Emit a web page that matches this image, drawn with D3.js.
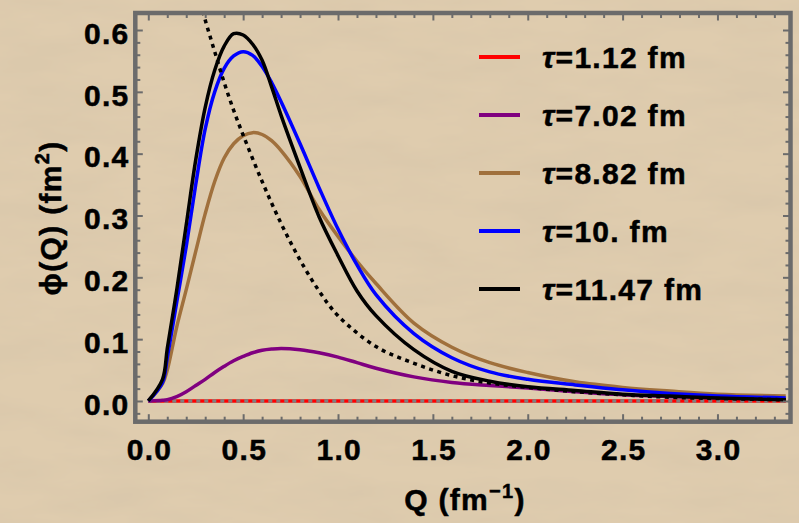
<!DOCTYPE html>
<html>
<head>
<meta charset="utf-8">
<script src="https://cdn.jsdelivr.net/npm/d3@7"></script>
<style>
  body { margin: 0; background: #dcc9ab; overflow: hidden; }
  svg { display: block; }
  text { font-family: "Liberation Sans", Arial, sans-serif; font-weight: bold; fill: #000;
         stroke: #000; stroke-width: 0.5px; letter-spacing: 1.3px; }
</style>
</head>
<body>
<div id="container"></div>
<script>
/* DATA */
const qGrid = [0, 0.075, 0.1, 0.15, 0.2, 0.25, 0.3, 0.35, 0.4, 0.45, 0.5, 0.55, 0.6, 0.65, 0.7,
               0.8, 0.9, 1.0, 1.1, 1.2, 1.4, 1.6, 1.8, 2.0, 2.25, 2.5, 2.75, 3.0, 3.36];

const phiTau1 = [0, 0, 0, 0, 0, 0, 0, 0, 0, 0, 0, 0, 0, 0, 0,
                 0, 0, 0, 0, 0, 0, 0, 0, 0, 0, 0, 0, 0, 0];
const phiTau7 = [0, 0.001, 0.002, 0.007, 0.015, 0.025, 0.035, 0.046, 0.056, 0.065, 0.072, 0.078, 0.082, 0.084, 0.085,
                 0.083, 0.078, 0.071, 0.062, 0.053, 0.039, 0.030, 0.025, 0.021, 0.015, 0.010, 0.007, 0.005, 0.003];
const phiTau8 = [0, 0.028, 0.05, 0.12, 0.18, 0.242, 0.303, 0.355, 0.393, 0.416, 0.429, 0.434, 0.431, 0.421, 0.405,
                 0.363, 0.31, 0.266, 0.226, 0.19, 0.126, 0.087, 0.062, 0.046, 0.031, 0.022, 0.016, 0.011, 0.008];
const phiTau10 = [0, 0.03, 0.07, 0.16, 0.25, 0.35, 0.44, 0.50, 0.538, 0.558, 0.565, 0.559, 0.541, 0.515, 0.484,
                  0.416, 0.345, 0.278, 0.22, 0.172, 0.109, 0.070, 0.047, 0.035, 0.026, 0.018, 0.012, 0.008, 0.005];
const phiTau11 = [0, 0.035, 0.085, 0.18, 0.285, 0.39, 0.475, 0.535, 0.574, 0.594, 0.592, 0.577, 0.551, 0.508, 0.462,
                  0.378, 0.298, 0.235, 0.178, 0.138, 0.083, 0.048, 0.032, 0.023, 0.017, 0.011, 0.008, 0.005, 0.002];

const dotQ   = [0.25, 0.3, 0.35, 0.4, 0.45, 0.5, 0.6, 0.7, 0.8, 0.9, 1.0, 1.2, 1.4, 1.6, 1.8, 2.0, 2.25, 2.5, 2.75, 3.0, 3.36];
const dotPhi = [0.67, 0.616, 0.565, 0.515, 0.47, 0.43, 0.355, 0.287, 0.228, 0.178, 0.138, 0.088, 0.061, 0.041, 0.029, 0.022, 0.015, 0.010, 0.006, 0.004, 0.002];

const seriesLabels = ["1.12", "7.02", "8.82", "10.", "11.47"];
const seriesColors = ["#ff0000", "#800080", "#a0703c", "#0000ff", "#000000"];
const seriesValues = [phiTau1, phiTau7, phiTau8, phiTau10, phiTau11];

const xTicks = [0, 0.5, 1.0, 1.5, 2.0, 2.5, 3.0];
const yTicks = [0, 0.1, 0.2, 0.3, 0.4, 0.5, 0.6];

/* SIZES */
const W = 799, H = 523;
const frame = {left: 135.3, right: 790.5, top: 13, bottom: 421.7};
const frameColor = "#6b6b6b";

/* SCALES */
const x = d3.scaleLinear().domain([-0.0685, 3.385]).range([frame.left, frame.right]);
const y = d3.scaleLinear().domain([-0.0335, 0.6275]).range([frame.bottom, frame.top]);

const xMinor = d3.range(-0.0, 3.4, 0.1).map(d => +d.toFixed(1)).filter(d => xTicks.indexOf(d) < 0);
const yMinor = d3.range(-0.02, 0.62, 0.02).map(d => +d.toFixed(2)).filter(d => yTicks.indexOf(d) < 0);

/* SVG */
const svg = d3.select("#container").append("svg")
    .attr("width", W)
    .attr("height", H);

/* PAPER TEXTURE */
const defs = svg.append("defs");
const paper = defs.append("filter").attr("id", "paper")
    .attr("x", 0).attr("y", 0).attr("width", "100%").attr("height", "100%");
paper.append("feTurbulence")
    .attr("type", "fractalNoise")
    .attr("baseFrequency", "0.01 0.035")
    .attr("numOctaves", 4)
    .attr("seed", 7);
paper.append("feColorMatrix")
    .attr("values", "0 0 0 0 0.62  0 0 0 0 0.52  0 0 0 0 0.38  0.6 0 0 0 -0.2");

defs.append("clipPath").attr("id", "plotClip")
  .append("rect")
    .attr("x", frame.left).attr("y", frame.top)
    .attr("width", frame.right - frame.left)
    .attr("height", frame.bottom - frame.top);

svg.append("rect").attr("width", W).attr("height", H).attr("fill", "#dfccae");
svg.append("rect").attr("width", W).attr("height", H).attr("filter", "url(#paper)");

/* CURVES */
const plot = svg.append("g").attr("clip-path", "url(#plotClip)");

const line = d3.line()
    .x(d => x(d[0]))
    .y(d => y(d[1]))
    .curve(d3.curveCatmullRom.alpha(0.5));

// tau = 1.12 sits on zero, gray axis dashes drawn over it
plot.append("path")
    .datum(qGrid.map((q, i) => [q, phiTau1[i]]))
    .attr("fill", "none")
    .attr("stroke", seriesColors[0])
    .attr("stroke-width", 3.5)
    .attr("d", line);

plot.append("line")
    .attr("x1", x(0)).attr("x2", frame.right)
    .attr("y1", y(0)).attr("y2", y(0))
    .attr("stroke", "#808080")
    .attr("stroke-width", 3.5)
    .attr("stroke-dasharray", "4,4");

seriesValues.slice(1).forEach((vals, k) => {
  plot.append("path")
      .datum(qGrid.map((q, i) => [q, vals[i]]))
      .attr("fill", "none")
      .attr("stroke", seriesColors[k + 1])
      .attr("stroke-width", 3.5)
      .attr("stroke-linejoin", "round")
      .attr("d", line);
});

plot.append("path")
    .datum(dotQ.map((q, i) => [q, dotPhi[i]]))
    .attr("fill", "none")
    .attr("stroke", "#000")
    .attr("stroke-width", 3.5)
    .attr("stroke-dasharray", "4,4.5")
    .attr("d", line);

/* FRAME TICKS */
function styleAxis(g) {
  g.select(".domain").remove();
  g.selectAll(".tick line").attr("stroke", frameColor).attr("stroke-width", 2);
  g.selectAll("text")
      .attr("font-family", "Liberation Sans, Arial, sans-serif")
      .attr("font-weight", "bold")
      .attr("font-size", 30)
      .attr("fill", "#000");
}
const fmt = d3.format(".1f");

// bottom
svg.append("g").attr("transform", `translate(0,${frame.bottom})`)
    .call(d3.axisBottom(x).tickValues(xTicks).tickSize(-7.5).tickPadding(17).tickFormat(fmt))
    .call(styleAxis)
    .call(g => g.selectAll("text").attr("dx", "0.7"));
svg.append("g").attr("transform", `translate(0,${frame.bottom})`)
    .call(d3.axisBottom(x).tickValues(xMinor).tickSize(-5).tickFormat(""))
    .call(styleAxis);
// top
svg.append("g").attr("transform", `translate(0,${frame.top})`)
    .call(d3.axisTop(x).tickValues(xTicks).tickSize(-7.5).tickFormat(""))
    .call(styleAxis);
svg.append("g").attr("transform", `translate(0,${frame.top})`)
    .call(d3.axisTop(x).tickValues(xMinor).tickSize(-5).tickFormat(""))
    .call(styleAxis);
// left
svg.append("g").attr("transform", `translate(${frame.left},0)`)
    .call(d3.axisLeft(y).tickValues(yTicks).tickSize(-7.5).tickPadding(5.8).tickFormat(fmt))
    .call(styleAxis)
    .call(g => g.selectAll("text").attr("dy", "0.44em"));
svg.append("g").attr("transform", `translate(${frame.left},0)`)
    .call(d3.axisLeft(y).tickValues(yMinor).tickSize(-5).tickFormat(""))
    .call(styleAxis);
// right
svg.append("g").attr("transform", `translate(${frame.right},0)`)
    .call(d3.axisRight(y).tickValues(yTicks).tickSize(-7.5).tickFormat(""))
    .call(styleAxis);
svg.append("g").attr("transform", `translate(${frame.right},0)`)
    .call(d3.axisRight(y).tickValues(yMinor).tickSize(-5).tickFormat(""))
    .call(styleAxis);

/* FRAME */
svg.append("rect")
    .attr("x", frame.left).attr("y", frame.top)
    .attr("width", frame.right - frame.left)
    .attr("height", frame.bottom - frame.top)
    .attr("fill", "none")
    .attr("stroke", frameColor)
    .attr("stroke-width", 4.5);

/* AXIS TITLES */
const xTitle = svg.append("text")
    .attr("x", 465).attr("y", 510)
    .attr("text-anchor", "middle")
    .attr("font-size", 30);
xTitle.append("tspan").text("Q (fm");
xTitle.append("tspan").attr("dy", -12).attr("font-size", 20).text("\u22121");
xTitle.append("tspan").attr("dy", 12).text(")");

const yTitle = svg.append("text")
    .attr("transform", "translate(61,218) rotate(-90)")
    .attr("text-anchor", "middle")
    .attr("font-size", 30);
yTitle.append("tspan").text("\u03D5(Q) (fm");
yTitle.append("tspan").attr("dy", -12).attr("font-size", 20).text("2");
yTitle.append("tspan").attr("dy", 12).text(")");

/* LEGEND */
const legend = svg.append("g");
const legendY = d3.scaleLinear().domain([0, 1]).range([57, 115]);

seriesLabels.forEach((lab, i) => {
  const row = legend.append("g").attr("transform", `translate(0,${legendY(i)})`);
  row.append("line")
      .attr("x1", 479).attr("x2", 520)
      .attr("stroke", seriesColors[i])
      .attr("stroke-width", 4);
  const t = row.append("text")
      .attr("x", 542).attr("y", 11)
      .attr("font-size", 30);
  t.append("tspan").attr("font-style", "italic").text("\u03C4");
  t.append("tspan").text("=" + lab + " fm");
});
</script>
</body>
</html>
